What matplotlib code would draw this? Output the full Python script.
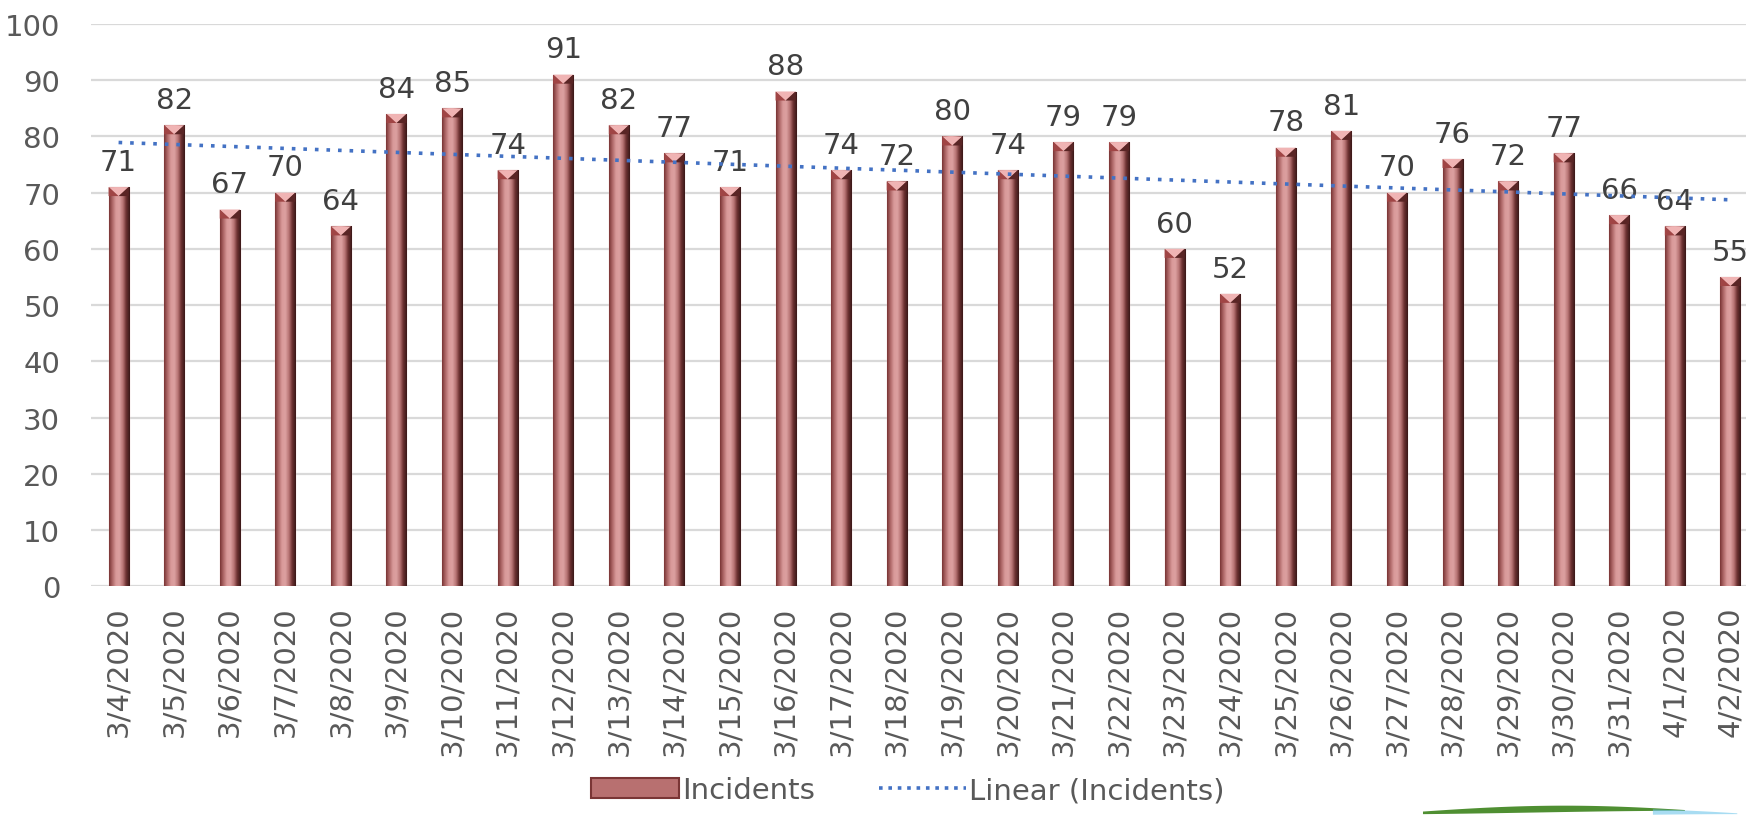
import numpy as np
import matplotlib.pyplot as plt
from matplotlib.colors import LinearSegmentedColormap
from matplotlib.patches import Polygon, Rectangle
from matplotlib.lines import Line2D

dates = ['3/4/2020', '3/5/2020', '3/6/2020', '3/7/2020', '3/8/2020', '3/9/2020',
         '3/10/2020', '3/11/2020', '3/12/2020', '3/13/2020', '3/14/2020', '3/15/2020',
         '3/16/2020', '3/17/2020', '3/18/2020', '3/19/2020', '3/20/2020', '3/21/2020',
         '3/22/2020', '3/23/2020', '3/24/2020', '3/25/2020', '3/26/2020', '3/27/2020',
         '3/28/2020', '3/29/2020', '3/30/2020', '3/31/2020', '4/1/2020', '4/2/2020']
incidents = [71, 82, 67, 70, 64, 84, 85, 74, 91, 82, 77, 71, 88, 74, 72,
             80, 74, 79, 79, 60, 52, 78, 81, 70, 76, 72, 77, 66, 64, 55]

text_col = '#595959'
plt.rcParams['font.family'] = ['DejaVu Sans']

# bevel look for the bars
bevel = LinearSegmentedColormap.from_list(
    'bevel', ['#7a3535', '#b06a6a', '#d99a9a', '#dca0a0', '#b87575', '#6b3030', '#3a1818'])
grad = np.linspace(0, 1, 64).reshape(1, -1)

fig = plt.figure(figsize=(17.46, 8.2), dpi=100)
ax = fig.add_axes([0.052, 0.284, 0.955, 0.6854])

x = np.arange(len(incidents))
w = 0.36
bars = ax.bar(x, incidents, width=w, color='#c07a7a', edgecolor='#e6c8c8', lw=1.0, zorder=2)
for b, v in zip(bars, incidents):
    x0 = b.get_x()
    im = ax.imshow(grad, cmap=bevel, aspect='auto', extent=[x0, x0 + w, 0, v],
                   zorder=2.5, interpolation='bilinear')
    im.set_clip_path(b)
    # triangular top cap
    cap = Polygon([[x0, v], [x0 + w, v], [x0 + w / 2, v - 1.6]], closed=True,
                  facecolor='#f0b4b4', edgecolor='none', zorder=3)
    ax.add_patch(cap)
    ax.add_patch(Polygon([[x0, v], [x0 + w / 2, v - 1.6], [x0, v - 1.6]],
                         closed=True, facecolor='#a04545', edgecolor='none', zorder=3))
    ax.add_patch(Polygon([[x0 + w, v], [x0 + w / 2, v - 1.6], [x0 + w, v - 1.6]],
                         closed=True, facecolor='#5a2525', edgecolor='none', zorder=3))
    ax.text(b.get_x() + w / 2, v + 2.0, str(v), ha='center', va='bottom',
            fontsize=21, color='#404040')

# linear trendline
coef = np.polyfit(x, incidents, 1)
ax.plot(x, np.polyval(coef, x), linestyle=(0, (1, 2.2)), color='#4472C4',
        lw=2.6, zorder=4)

ax.set_xlim(-0.5, len(incidents) - 0.5)
ax.set_ylim(0, 100)
ax.set_yticks(np.arange(0, 101, 10))
ax.set_xticks(x)
ax.set_xticklabels(dates, rotation=90)
ax.tick_params(axis='both', length=0, labelsize=21, labelcolor=text_col)
ax.tick_params(axis='y', pad=22)
ax.tick_params(axis='x', pad=14)
ax.grid(axis='y', color='#d9d9d9', lw=1.6, zorder=0)
ax.set_axisbelow(True)
for s in ax.spines.values():
    s.set_visible(False)

handles = [Rectangle((0, 0), 1, 1, facecolor='#b87070', edgecolor='#7a3535', lw=1.5),
           Line2D([0], [0], color='#4472C4', lw=2.6, linestyle=(0, (1, 1.6)))]
fig.legend(handles, ['Incidents', 'Linear (Incidents)'], loc='center',
           bbox_to_anchor=(0.52, 0.035), ncol=2, frameon=False, fontsize=21,
           labelcolor=text_col, handlelength=3.0, handletextpad=0.1,
           columnspacing=2.2)

# cropped logo swoosh, bottom right corner (thin tapered stroke)
t = np.linspace(0, 1, 60)
sx = 0.815 + 0.15 * t
mid = 0.0075 + 0.005 * np.sin(np.pi * t * 0.8)
half = 0.0035 * np.sin(np.pi * (0.1 + 0.9 * t)) + 0.0005
swoosh = np.column_stack([np.r_[sx, sx[::-1]], np.r_[mid + half, (mid - half)[::-1]]])
fig.patches.append(Polygon(swoosh, closed=True, transform=fig.transFigure,
                           facecolor='#4f8f32', edgecolor='none', figure=fig))
blue = np.column_stack([np.r_[sx[40:] + 0.03, (sx[40:] + 0.03)[::-1]],
                        np.r_[mid[40:] - 0.004 + half[40:], (mid[40:] - 0.004 - half[40:])[::-1]]])
fig.patches.append(Polygon(blue, closed=True, transform=fig.transFigure,
                           facecolor='#6ec6ea', edgecolor='none', alpha=0.6, figure=fig))

fig.savefig('out.png', dpi=100)
